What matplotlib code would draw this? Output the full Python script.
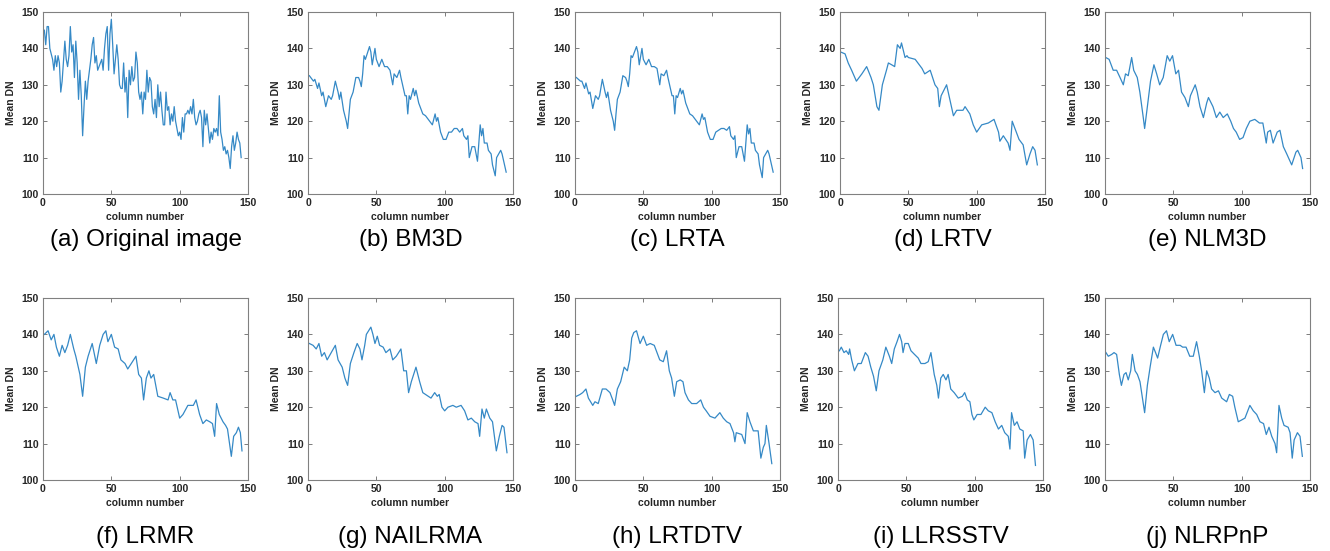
import numpy as np
import matplotlib
matplotlib.use("Agg")
import matplotlib.pyplot as plt

# === DATA (mean DN per column) ===
captions = ["(a) Original image", "(b) BM3D", "(c) LRTA", "(d) LRTV", "(e) NLM3D",
            "(f) LRMR", "(g) NAILRMA", "(h) LRTDTV", "(i) LLRSSTV", "(j) NLRPnP"]

x_orig = [1, 2, 3, 4, 5, 7, 8, 9, 10, 11, 12, 13, 14, 16, 17, 18, 19, 20, 21, 22, 23, 24, 25,
          26, 27, 28, 29, 30, 31, 32, 33, 35, 36, 37, 38, 39, 40, 41, 43, 44, 45, 46, 47, 48,
          49, 50, 51, 52, 53, 54, 55, 56, 57, 58, 59, 60, 61, 62, 63, 64, 65, 66, 67, 68, 69,
          70, 71, 72, 73, 74, 75, 76, 77, 78, 79, 80, 81, 82, 83, 84, 85, 86, 87, 88, 89, 90,
          91, 92, 93, 94, 95, 96, 97, 98, 99, 100, 101, 102, 103, 104, 105, 106, 107, 108, 109,
          110, 111, 112, 113, 114, 115, 116, 117, 118, 119, 120, 121, 122, 123, 124, 125, 126,
          127, 128, 129, 130, 131, 132, 133, 134, 135, 136, 137, 138, 139, 140, 141, 142, 143,
          144, 145]
y_orig = [145, 141, 146, 146, 140, 137, 134, 138, 135, 138, 136, 128, 131, 142, 137, 135, 138,
          146, 139, 141, 132, 142, 136, 126, 134, 127, 116, 124, 131, 126, 131, 137, 141, 143,
          136, 138, 134, 135, 137, 134, 140, 144, 146, 134, 144, 148, 141, 133, 137, 141, 137,
          130, 129, 129, 136, 128, 132, 121, 134, 130, 135, 131, 132, 139, 136, 128, 126, 128,
          122, 128, 126, 134, 128, 132, 131, 124, 122, 126, 121, 130, 124, 128, 123, 119, 119,
          128, 123, 124, 119, 122, 120, 124, 120, 118, 116, 117, 115, 121, 117, 122, 122, 123,
          122, 124, 122, 126, 121, 119, 120, 122, 123, 121, 113, 123, 119, 122, 118, 114, 117,
          115, 118, 117, 118, 116, 127, 117, 115, 112, 113, 111, 112, 110, 107, 113, 116, 112,
          114, 117, 115, 114, 110]

x_bm3d = [1, 4, 5, 7, 8, 10, 11, 13, 15, 17, 18, 20, 22, 23, 24, 26, 28, 29, 30, 31, 33, 35,
          37, 38, 39, 40, 41, 42, 45, 46, 47, 49, 50, 52, 54, 56, 58, 60, 62, 63, 65, 67, 68,
          71, 72, 73, 74, 75, 77, 78, 79, 81, 84, 86, 89, 91, 93, 94, 95, 97, 99, 101, 103,
          105, 107, 109, 111, 113, 114, 116, 117, 118, 120, 122, 123, 124, 126, 127, 128, 129,
          131, 132, 134, 135, 137, 138, 141, 142, 145]
y_bm3d = [132.5, 131, 131.5, 129, 130.5, 127, 128, 124, 127, 126, 127, 131, 128, 126, 128,
          123, 120, 118, 122, 126, 128, 132, 132, 131, 129.5, 133, 138, 137, 140.5, 139, 135.5,
          140, 137, 135, 137, 135, 135, 134, 130, 133, 132, 134, 132, 127, 127, 122, 127, 126,
          129, 127, 128.5, 125, 122, 121.5, 120, 119, 122, 120, 121, 117, 115, 115, 117, 117,
          118, 118, 117, 118, 116, 115, 116, 110, 113, 113, 111, 109, 119, 116, 118, 114, 114,
          112, 111, 108, 105, 110, 112, 111, 106]

x_lrta = x_bm3d
y_lrta = [132, 131, 131, 129, 130.5, 127.5, 128, 123.5, 127, 126, 127, 131.5, 128, 126.5, 128,
          123, 120, 117.5, 122, 126, 128, 132.5, 132, 131, 129.5, 133, 138, 137.5, 140.5, 139,
          135.5, 140, 137, 135.5, 137, 135, 135, 134.5, 130, 133, 132.5, 134, 132, 127, 127,
          122, 127, 126.5, 129, 127.5, 128.5, 125, 122, 121.5, 120, 119, 122, 120.5, 121, 117,
          115, 115, 117, 117.5, 118, 118, 117.5, 118.5, 116, 115, 116, 110, 113, 113, 111, 109,
          119, 116.5, 118, 114, 114, 112, 111, 108, 104.5, 110, 112, 111, 106]

x_lrtv = [0.5, 3.7, 6, 8.5, 12, 16, 19.5, 22.7, 24.4, 27, 28.5, 31, 34, 35.4, 37.8, 40, 42, 44,
          45, 47.6, 49, 50, 55, 60, 62, 66, 69.5, 71.5, 72.7, 74, 78, 83, 85.4, 90, 91.5, 95,
          97.5, 100, 103.7, 108.5, 112.7, 116, 117, 119.5, 123, 124.4, 126, 129, 131, 134, 136.6,
          139, 141, 142.7, 144.4]
y_lrtv = [139, 138.5, 136, 134, 131, 133, 135, 132, 130, 124, 123, 130, 134, 136, 135.5, 135,
          141, 140, 141.5, 137.5, 138, 137.5, 137, 134.5, 133, 134, 130, 129, 124, 127, 130,
          121.5, 123, 123, 124, 122, 119, 117, 119, 119.5, 120.5, 117, 114.5, 116, 114, 112, 120,
          117, 115, 113.5, 108, 111, 113, 112, 108]

x_nlm3d = [0.5, 3, 6, 8.5, 11, 13.4, 15, 17, 19.5, 21, 23.6, 25.5, 28, 29, 31, 33.3, 35.8, 37.8,
           40, 42.6, 45.5, 47.4, 49.4, 51.8, 53.8, 56, 58.5, 61, 62.5, 66, 67.5, 69.5, 72, 74.4,
           75.7, 79, 81.5, 84, 86.5, 89.5, 92, 94, 96, 98.5, 101, 103.4, 106, 109.6, 113, 115.5,
           118, 119, 121, 123, 126, 128, 130.5, 133, 136.6, 139.7, 141, 143.4, 144.6]
y_nlm3d = [137.5, 137, 134, 134, 132, 130, 133, 132.5, 137.5, 134, 132, 128, 121, 118, 124, 131,
           135.5, 133, 130, 132, 138, 136.5, 138, 133, 134, 128, 126.5, 124, 127, 130, 128, 124,
           121, 125, 126.5, 124, 121, 122.5, 121, 122, 120, 118, 117, 115, 115.5, 118, 120,
           120.5, 119.5, 119.5, 114, 117, 117.5, 114, 117, 117.5, 113, 111, 108, 111.5, 112,
           110, 107]

x_lrmr = [1, 3.7, 6, 8, 9.8, 12, 14, 16, 18, 20, 22.5, 24, 27, 29, 31, 33, 36, 39, 41.5, 44,
          46, 47.5, 50, 52.4, 55, 57, 60, 62, 64.6, 68, 70, 72, 73.6, 75.6, 77.5, 79, 81, 84,
          88, 91.5, 93, 95, 97, 100, 102.4, 106, 110, 112, 114.6, 117, 119.5, 122, 124, 125.6,
          127, 129, 131.7, 133.6, 135, 137.8, 139.5, 141.5, 143, 144.4, 145.6]
y_lrmr = [140, 141, 138.5, 140, 136.5, 134, 137, 135, 137, 140, 136, 134, 129, 123, 131, 134,
          137.5, 132, 137, 140, 141, 138, 140, 136.5, 136, 133, 132, 130.5, 132, 134, 129, 128,
          122, 128, 130, 128, 129, 123, 122.5, 122, 124, 122, 122, 117, 118, 120.5, 120.5, 122,
          118, 115.5, 116.5, 116, 115.5, 112, 121, 118, 116, 115, 114, 106.5, 112, 113, 114.5,
          113, 108]

x_nailrma = [1, 3.7, 6, 8, 10, 12, 14, 17, 20, 22, 25, 27, 29, 31, 33.6, 36, 38, 39.5, 41.5,
             42.7, 46, 47.5, 49, 50.7, 52.4, 55, 57, 60, 62, 64.6, 68, 70, 72, 73.6, 75.6, 79,
             81.7, 84, 88, 90, 92.7, 94.6, 96, 98, 100, 102.4, 106, 108.5, 112, 114.6, 117,
             119.5, 122, 124.4, 125.6, 127.3, 129, 130.5, 133, 135, 137.8, 140, 142, 143.4,
             145.6]
y_nailrma = [137.5, 137, 136, 137.5, 134, 135, 133, 135, 137, 133, 131, 128, 126, 132, 135,
             137.5, 136, 133, 137, 140, 142, 140, 137.5, 139.5, 137, 136.5, 135, 136, 133, 134,
             136, 130, 130, 124, 127, 131, 127, 124, 123, 122.5, 124, 123, 123.5, 120, 119, 120,
             120.5, 120, 120.5, 119, 116.5, 117, 116, 115.5, 112, 119.5, 117, 119.5, 117, 116,
             108, 112, 115, 114.5, 107.5]

x_lrtdtv = [1, 3.7, 5.6, 8, 9.8, 13, 14.6, 17, 20, 22.7, 25.6, 27.6, 29, 31, 33.4, 36, 38.3,
            40, 41.5, 43, 45, 47.6, 50, 52.4, 55, 58, 60, 62, 64.6, 67, 69, 70.7, 72.7, 74.4,
            77, 79, 80.5, 83, 85.4, 89, 92, 94, 96, 98.8, 102.4, 106, 108.5, 111, 113.4, 116,
            117, 118, 122, 124.4, 126, 128, 130.5, 134, 136, 137.8, 139, 140, 142, 144]
y_lrtdtv = [123, 123.5, 124, 125, 122.5, 120.5, 121.5, 121, 125, 125, 124, 122, 120.5, 125,
            127, 131, 130, 133, 139, 140.5, 141, 137.5, 139.5, 137, 137.5, 137, 135, 133, 132.5,
            135.5, 130, 128, 123, 127, 127.5, 127, 124, 122, 121, 121, 122, 120, 119, 117.5,
            117, 118.5, 117, 116, 115.5, 113, 110.5, 113, 112.5, 110, 118.5, 116, 113.5, 113.5,
            106, 109, 110, 115, 110, 104.5]

x_llrsstv = [1, 2.4, 4.4, 6, 7.8, 8.5, 10, 12, 14.6, 17, 20, 22, 24, 26, 28, 30, 32.8, 35,
             37.6, 39.3, 41.2, 43.2, 45, 46.6, 47.6, 49, 51.4, 53.4, 56, 58.7, 60.7, 63.6, 66,
             68, 70.4, 72.3, 73.5, 75.2, 77, 79, 80.6, 82.5, 85, 88, 91, 92.7, 94.6, 96.5, 98,
             99.4, 101.8, 104.6, 107.7, 110, 112.6, 115, 117.4, 119.8, 122, 124.6, 125.8, 127,
             129, 131, 133, 135.5, 136.6, 138.4, 140.8, 142.8, 144.5]
y_llrsstv = [135.5, 136.5, 135, 135.5, 134.5, 136, 133, 130, 132, 132, 135, 134, 131, 128.5,
             124.5, 130, 133, 136.5, 134, 132, 136, 138, 140, 138, 135, 137.5, 137.5, 135.5,
             134.5, 133.5, 132, 132, 132.5, 135, 129, 126, 122.5, 128, 129, 127.5, 129, 125,
             124, 122.5, 123, 124, 122, 121.5, 118, 116.5, 118, 118, 120, 119, 118.5, 116, 114,
             115, 113, 112, 108.5, 118.5, 115, 116, 114, 113.5, 106, 111, 112.5, 111, 104]

x_nlrpnp = [0.7, 2.4, 4.9, 6.6, 8.5, 10.5, 12, 13.9, 15.4, 17, 18.8, 20, 22, 23.7, 25.6, 27.6,
            29, 31, 33, 35.4, 37, 38.5, 40.7, 42.7, 45, 47, 49.5, 52, 55, 56.8, 59.3, 62, 64.6,
            67, 69, 70.7, 72.7, 74.4, 76.3, 78, 80.5, 83, 85.4, 89, 91, 93.4, 95, 97.5, 100,
            102.4, 106, 108.5, 111, 113.4, 116, 118, 120, 122, 124.4, 125.6, 127.3, 129.3, 131,
            134, 135.4, 137, 138.4, 140.8, 142.7, 144.4]
y_nlrpnp = [135, 134, 134.5, 135, 134.5, 129, 126, 129, 129.5, 127.5, 130, 134.5, 130, 129,
            127, 122, 118.5, 126, 131, 136.5, 135, 133.5, 137, 140, 141, 138, 140, 137, 137,
            136.5, 136.5, 134, 134, 138, 134, 130, 124, 130, 128, 125, 124, 124.5, 122.5, 121.5,
            123.5, 123, 120, 116, 116.5, 117, 120.5, 119, 118, 116, 115.5, 112.5, 114.5, 112,
            110, 107.5, 120.5, 117, 115, 114.5, 113, 106, 111, 113, 112, 106.5]

series_x = [x_orig, x_bm3d, x_lrta, x_lrtv, x_nlm3d, x_lrmr, x_nailrma, x_lrtdtv, x_llrsstv, x_nlrpnp]
series_y = [y_orig, y_bm3d, y_lrta, y_lrtv, y_nlm3d, y_lrmr, y_nailrma, y_lrtdtv, y_llrsstv, y_nlrpnp]

# === LAYOUT (pixels) ===
W, H = 1330, 551
lefts_top = [43, 308, 575, 840, 1105]
lefts_bot = [43, 308, 575, 838, 1105]
ax_w = 205
rows = [(12, 194, 240), (298, 480, 537)]  # top, bottom, caption centre

plt.rcParams["font.family"] = ["Liberation Sans", "DejaVu Sans"]
text_col = "#262626"
line_col = "#3589C6"

fig = plt.figure(figsize=(W / 100, H / 100), dpi=100)

for i in range(10):
    r = i // 5
    left = (lefts_top if r == 0 else lefts_bot)[i % 5]
    top, bottom, cap_y = rows[r]
    ax = fig.add_axes([left / W, 1 - bottom / H, ax_w / W, (bottom - top) / H])

    ax.plot(series_x[i], series_y[i], color=line_col, linewidth=0.9)

    ax.set_xlim(0, 150)
    ax.set_ylim(100, 150)
    ax.set_xticks([0, 50, 100, 150])
    ax.set_yticks(np.arange(100, 151, 10))
    ax.tick_params(direction="in", length=3, width=0.6, top=True, right=True,
                   labelsize=7.5, colors="#666666", labelcolor=text_col, pad=3)
    for lab in ax.get_xticklabels() + ax.get_yticklabels():
        lab.set_fontweight("bold")
    for sp in ax.spines.values():
        sp.set_color("#808080")
        sp.set_linewidth(0.8)

    ax.set_xlabel("column number", fontsize=7.5, fontweight="bold", color=text_col, labelpad=3)
    ax.set_ylabel("Mean DN", fontsize=7.5, fontweight="bold", color=text_col, labelpad=4)

    fig.text((left + ax_w / 2) / W, 1 - cap_y / H, captions[i], fontsize=17.5,
             ha="center", va="center", color="black")

fig.savefig("out.png", dpi=100)
